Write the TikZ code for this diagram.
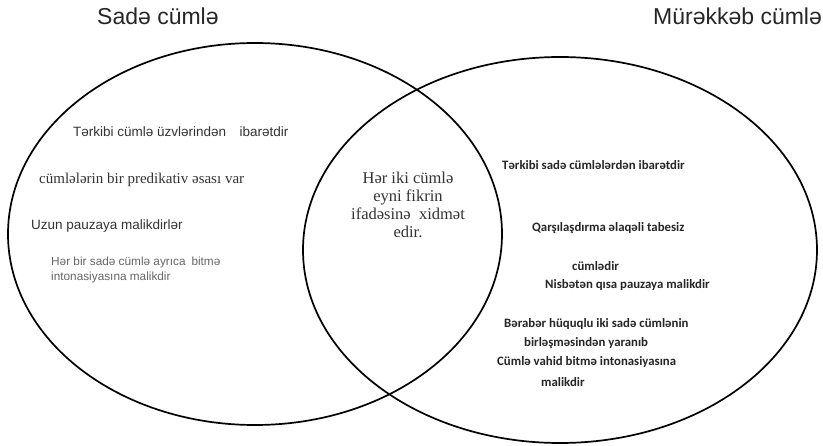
\documentclass[tikz,border=0pt]{standalone}
\usepackage{fontspec}
\setmainfont{Liberation Serif}
\newfontfamily\arialf{Liberation Sans}
\newfontfamily\calf{Carlito}
\begin{document}
\begin{tikzpicture}[x=1pt,y=-1pt,
  ring/.style={draw=black,line width=1.7pt},
  title/.style={inner sep=0pt,anchor=base west,font=\arialf\fontsize{23}{26}\selectfont,text=black!85},
  lsans/.style={inner sep=0pt,anchor=west,font=\arialf\fontsize{13.5}{16}\selectfont,text=black!80},
  lserif/.style={inner sep=0pt,anchor=west,font=\fontsize{15}{17}\selectfont,text=black!80},
  lsmall/.style={inner sep=0pt,anchor=north west,align=left,font=\arialf\fontsize{11.8}{15}\selectfont,text=black!60},
  mid/.style={inner sep=0pt,align=center,font=\fontsize{16.5}{18}\selectfont,text=black!80},
  rtxt/.style={inner sep=0pt,anchor=west,font=\calf\bfseries\fontsize{12.8}{15}\selectfont,text=black!85}]
\useasboundingbox (0,0) rectangle (823,446);
\fill[white] (0,0) rectangle (823,446);
% circles
\draw[ring] (255,234) ellipse [x radius=247pt, y radius=191pt];
\draw[ring] (560,250) ellipse [x radius=257pt, y radius=193pt];
% titles
\node[title] (t1) at (97,25) {Sadə cümlə};
\node[title] (t2) at (653,25) {Mürəkkəb cümlə};
% left texts
\node[lsans] (l1) at (73,132) {Tərkibi cümlə üzvlərindən\hspace{1em}ibarətdir};
\node[lserif] (l2) at (39,180) {cümlələrin bir predikativ əsası var};
\node[lsans] (l3) at (31,226) {Uzun pauzaya malikdirlər};
\node[lsmall] (l4) at (51,257) {Hər bir sadə cümlə ayrıca\hspace{0.5em}bitmə\\intonasiyasına malikdir};
% middle
\node[mid] (m) at (408,205) {Hər iki cümlə\\eyni fikrin\\ifadəsinə\hspace{0.5em}xidmət\\edir.};
% right texts
\node[rtxt] (r1) at (502,165) {Tərkibi sadə cümlələrdən ibarətdir};
\node[rtxt] (r2) at (532,228) {Qarşılaşdırma əlaqəli tabesiz};
\node[rtxt] (r3) at (572,266) {cümlədir};
\node[rtxt] (r4) at (545,285) {Nisbətən qısa pauzaya malikdir};
\node[rtxt] (r5) at (504,324) {Bərabər hüquqlu iki sadə cümlənin};
\node[rtxt] (r6) at (524,343) {birləşməsindən yaranıb};
\node[rtxt] (r7) at (497,362) {Cümlə vahid bitmə intonasiyasına};
\node[rtxt] (r8) at (541,382) {malikdir};
\end{tikzpicture}
\end{document}
